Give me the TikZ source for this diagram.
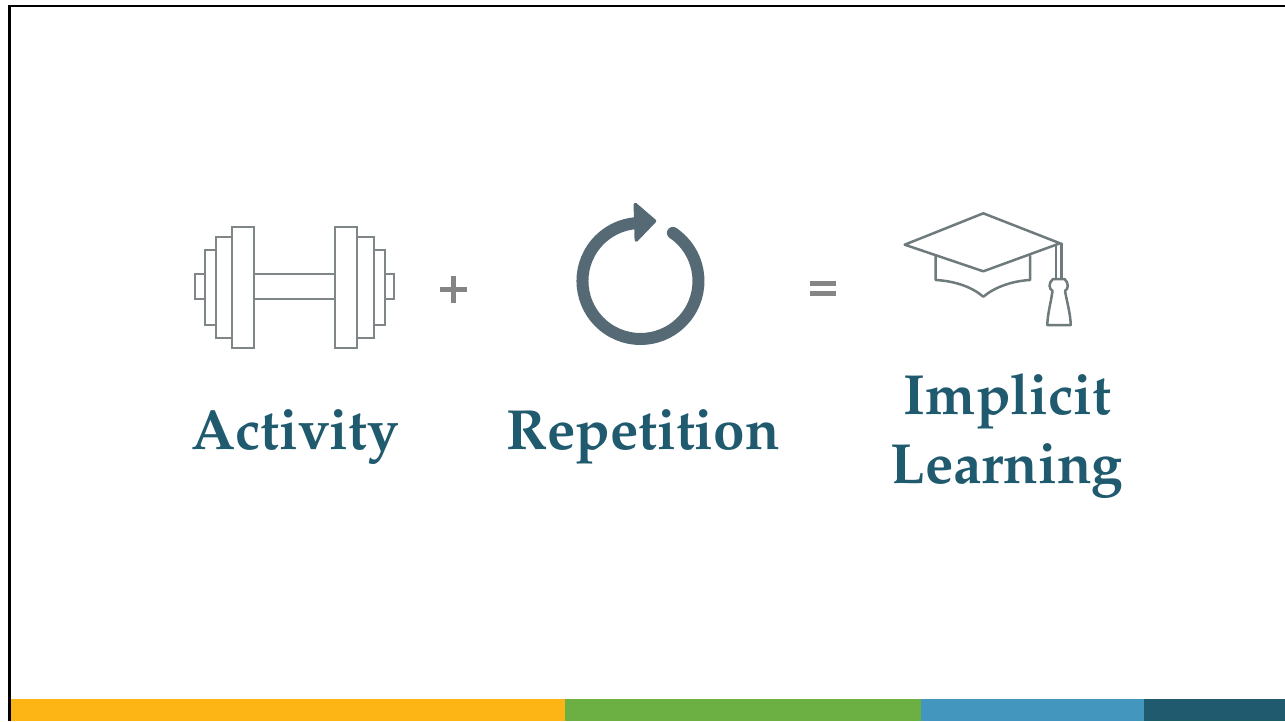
\documentclass[tikz,border=0pt]{standalone}
\usepackage[T1]{fontenc}
\definecolor{teal1}{HTML}{1F5A6E}
\definecolor{yel}{HTML}{FDB515}
\definecolor{grn}{HTML}{6CB043}
\definecolor{blu}{HTML}{4396BD}
\definecolor{lineg}{HTML}{7F8687}
\definecolor{capg}{HTML}{6F7A7D}
\definecolor{loopc}{HTML}{566A75}
\definecolor{opg}{HTML}{858585}
\tikzset{
  wordlabel/.style={anchor=base,inner sep=0pt,text=teal1,font=\fontfamily{ppl}\fontseries{b}\fontsize{56.6}{60}\selectfont},
  bell/.style={draw=lineg,line width=2pt,fill=white},
  capline/.style={draw=capg,line width=2.5pt,line join=round,line cap=round,fill=white},
}
\begin{document}
\begin{tikzpicture}[x=1pt,y=-1pt]
\useasboundingbox (0,0) rectangle (1285,721);
\fill[white] (0,0) rectangle (1285,721);
% slide frame
\draw[black,line width=2.5pt] (9.25,721) -- (9.25,5.75) -- (1285,5.75);
% colour bars
\fill[yel] (10.5,699) rectangle (565,721);
\fill[grn] (565,699) rectangle (921,721);
\fill[blu] (921,699) rectangle (1144,721);
\fill[teal1] (1144,699) rectangle (1285,721);
% dumbbell
\draw[bell] (254,274.3) rectangle (335.3,298.7);
\draw[bell] (195.3,274) rectangle (204.7,299);
\draw[bell] (204.7,249.7) rectangle (216,325.3);
\draw[bell] (216,237.3) rectangle (232.3,338.3);
\draw[bell] (232.3,227.3) rectangle (254,347.7);
\draw[bell] (384.7,274) rectangle (394.3,299);
\draw[bell] (373.7,249.7) rectangle (384.7,325.3);
\draw[bell] (357.3,237.3) rectangle (373.7,338.3);
\draw[bell] (335.3,227.3) rectangle (357.3,347.7);
% plus
\fill[opg] (440,286.6) rectangle (466.5,292);
\fill[opg] (450.6,276.3) rectangle (456,302.8);
% loop arrow
\draw[loopc,line width=12pt,line cap=butt] (672.9,232.9) arc[start angle=-56,end angle=266,radius=58];
\fill[loopc] (672.9,232.9) circle[radius=6];
\fill[loopc,draw=loopc,line width=3.5pt,line join=round] (654.5,221) -- (635.3,204.5) -- (636.3,240) -- cycle;
% equals
\fill[opg] (810,281) rectangle (836,286);
\fill[opg] (810,291) rectangle (836,296);
% graduation cap
\draw[capline] (935.7,255.7) -- (935.7,280) .. controls (955,281) and (972,287) .. (983.3,296.7) .. controls (995,287) and (1012,281) .. (1030,280) -- (1030,255.7);
\draw[capline] (904.7,244.7) -- (983.3,213.3) -- (1060,243.3) -- (983.3,271.3) -- cycle;
\draw[capline] (1056,246) -- (1056,279);
\draw[capline] (1061.7,243.5) -- (1061.7,279);
\draw[capline] (1053,279) .. controls (1048,283) and (1049,289) .. (1052.5,291) .. controls (1051,302) and (1047.5,314) .. (1047.3,325) -- (1070.7,325) .. controls (1070.5,314) and (1067,302) .. (1065,291) .. controls (1068.5,289) and (1069,283) .. (1064.5,279) -- cycle;
% labels
\node[wordlabel] (activity) at (295,449) {Activity};
\node[wordlabel] (repetition) at (643,449) {Repetition};
\node[wordlabel] (implicit) at (1007.5,414) {Implicit};
\node[wordlabel] (learning) at (1007,483) {Learning};
\end{tikzpicture}
\end{document}
